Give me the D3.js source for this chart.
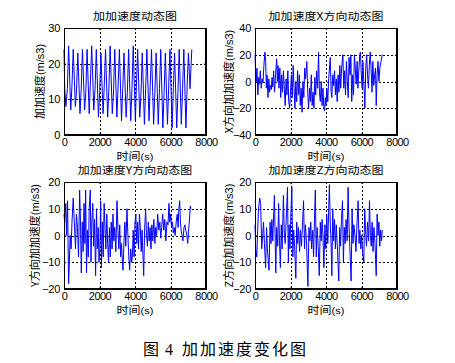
<!DOCTYPE html>
<html>
<head>
<meta charset="utf-8">
<script src="https://cdn.jsdelivr.net/npm/d3@7"></script>
<style>
body { margin: 0; background: #fff; }
svg text { font-family: Arial, "Liberation Sans", sans-serif; fill: #000; }
.cjk { font-family: "Noto Sans CJK SC", sans-serif; }
</style>
</head>
<body>
<svg id="chart" width="455" height="363"></svg>
<script>
// total jerk
var jerkT = [0, 40, 110, 190, 260, 380, 450, 520, 640, 700, 780, 900, 970, 1040, 1160, 1230, 1300, 1420, 1480,
  1560, 1680, 1750, 1820, 1940, 2010, 2080, 2200, 2270, 2340, 2460, 2530, 2600, 2720, 2790, 2860, 2980, 3050,
  3120, 3240, 3310, 3380, 3500, 3570, 3640, 3760, 3830, 3900, 4020, 4080, 4150, 4270, 4340, 4410, 4530, 4600,
  4670, 4790, 4860, 4930, 5050, 5120, 5190, 5310, 5380, 5450, 5570, 5640, 5710, 5830, 5900, 5970, 6090, 6160,
  6230, 6350, 6420, 6490, 6610, 6680, 6750, 6870, 6940, 7010, 7100, 7200];
var jerkV = [24, 13, 8, 13, 25, 7, 14, 24, 8, 12, 23, 6, 13, 24, 7, 12, 24, 6, 14,
  25, 7, 13, 24, 5, 12, 23, 6, 14, 24, 5, 13, 25, 6, 12, 24, 5, 14,
  24, 4, 13, 23, 5, 12, 24, 4, 13, 25, 4, 14, 24, 5, 12, 23, 3, 13,
  24, 4, 14, 24, 3, 12, 23, 3, 13, 24, 2, 12, 23, 3, 14, 24, 2, 13,
  23, 2, 12, 24, 3, 13, 24, 2, 14, 23, 13, 24];

// X direction
var jerkXT = [0, 40, 70, 110, 160, 210, 250, 300, 350, 400, 450, 500, 560, 600, 640, 680, 730, 780, 820, 870,
  920, 960, 1000, 1050, 1100, 1160, 1220, 1260, 1300, 1350, 1400, 1450, 1500, 1550, 1600, 1650, 1700, 1750,
  1800, 1850, 1900, 1950, 2000, 2050, 2100, 2150, 2200, 2250, 2300, 2350, 2400, 2450, 2500, 2550, 2600, 2650,
  2700, 2750, 2800, 2850, 2920, 2970, 3020, 3070, 3120, 3170, 3220, 3270, 3320, 3370, 3420, 3470, 3530, 3580,
  3630, 3680, 3730, 3780, 3830, 3880, 3920, 3960, 4000, 4050, 4100, 4150, 4240, 4290, 4330, 4380, 4430, 4480,
  4530, 4580, 4630, 4680, 4730, 4780, 4830, 4880, 4950, 5000, 5050, 5100, 5150, 5200, 5250, 5300, 5350, 5400,
  5450, 5500, 5550, 5600, 5650, 5700, 5750, 5800, 5850, 5900, 5940, 5990, 6040, 6080, 6130, 6190, 6240, 6290,
  6340, 6390, 6440, 6490, 6540, 6590, 6640, 6690, 6740, 6790, 6830, 6880, 6930, 6980, 7030, 7100, 7170];
var jerkXV = [20, 5, 0, 10, -10, 3, -2, 8, -5, 2, -1, 12, 22, 15, -5, 5, -12, 2, -8, -3,
  -6, 3, -4, 8, -8, 5, 17, 0, 12, -5, 10, -12, 5, -8, 8, -5, -18, 2,
  -10, 8, -15, -20, -8, 5, -12, 12, -5, -20, 0, -15, 8, -10, 5, -18, -5, -23,
  0, -12, 10, 2, 15, -8, -20, -5, -15, 5, -18, -8, -20, 3, -10, 8, -5, 22,
  -8, -15, 0, -18, -5, -20, -22, -12, -18, -5, -15, 2, 18, -8, -12, 5, -3, 8,
  -10, 2, -15, 5, -8, 12, -5, 10, 20, -5, 8, -10, 15, 0, -12, 18, 5, 20,
  -15, 5, -10, 20, 10, -2, 15, -5, 8, 20, 22, 5, -5, 15, 0, -20, 10, 20,
  5, -5, 12, 22, 10, -8, 15, -3, 5, 10, -18, 5, 15, 0, 10, 15, 20];

// Y direction
var jerkYT = [0, 40, 100, 150, 200, 260, 300, 350, 400, 450, 520, 560, 600, 650, 700, 760, 820, 880, 930, 975,
  1030, 1080, 1130, 1180, 1220, 1270, 1320, 1370, 1420, 1480, 1520, 1570, 1620, 1670, 1720, 1780, 1830, 1880,
  1930, 1970, 2020, 2066, 2110, 2160, 2210, 2260, 2310, 2360, 2410, 2460, 2510, 2560, 2610, 2660, 2710, 2760,
  2810, 2860, 2920, 2986, 3040, 3090, 3140, 3190, 3240, 3290, 3325, 3380, 3430, 3480, 3550, 3600, 3650, 3700,
  3760, 3810, 3850, 3900, 3950, 4000, 4050, 4100, 4150, 4200, 4250, 4300, 4350, 4400, 4450, 4490, 4540, 4600,
  4650, 4700, 4750, 4800, 4850, 4900, 4950, 5000, 5060, 5120, 5170, 5220, 5280, 5340, 5400, 5450, 5500, 5560,
  5620, 5680, 5740, 5800, 5860, 5915, 5960, 6010, 6060, 6110, 6160, 6210, 6260, 6320, 6380, 6430, 6470, 6516,
  6560, 6600, 6650, 6700, 6760, 6810, 6860, 6920, 6970, 7020, 7060, 7117, 7150];
var jerkYV = [8, 5, 12, 0, 13, -18, -10, 0, -5, 5, 14, 8, 2, -5, 8, 3, -8, 17, 5, -14,
  5, -6, 12, -3, 17, -14, 2, -8, 10, 17, -10, 5, 12, -4, 6, -15, 10, -5,
  3, -10, -5, 13, -12, 5, -8, 12, 3, -5, 8, -3, -10, 3, -8, 5, -5, 8,
  -2, 3, -6, 13, 2, -5, 4, -8, -3, -10, -13, -2, 5, -4, 10, 0, -8, -13,
  -5, -10, -8, 2, -8, 5, 8, -3, 5, -5, 8, 3, -6, 2, -8, -15, 2, 10,
  0, -4, 5, -2, 3, -5, 4, -2, 6, -3, 3, 0, 8, 2, 5, -1, 3, 8,
  2, 6, -2, 5, 4, 12, 5, 8, 3, 5, 1, 3, 0, 5, 8, 3, 10, 13,
  5, 2, 0, -2, 3, 4, 2, 0, -3, 2, 5, 11, 10];

// Z direction
var jerkZT = [0, 40, 100, 150, 200, 264, 320, 380, 430, 480, 530, 600, 650, 700, 790, 850, 900, 950, 1000, 1094,
  1170, 1220, 1280, 1330, 1380, 1430, 1480, 1530, 1600, 1650, 1700, 1760, 1830, 1880, 1920, 1970, 2020, 2075,
  2130, 2180, 2230, 2300, 2350, 2400, 2450, 2510, 2560, 2620, 2680, 2735, 2790, 2840, 2900, 2980, 3040, 3090,
  3140, 3190, 3250, 3300, 3350, 3400, 3450, 3500, 3560, 3620, 3680, 3730, 3780, 3830, 3880, 3940, 3990, 4040,
  4100, 4190, 4240, 4290, 4330, 4380, 4430, 4480, 4530, 4580, 4650, 4720, 4770, 4820, 4870, 4930, 4980, 5030,
  5080, 5130, 5190, 5245, 5290, 5340, 5415, 5470, 5520, 5570, 5630, 5690, 5750, 5810, 5860, 5910, 5960, 6010,
  6060, 6130, 6180, 6230, 6280, 6340, 6400, 6450, 6500, 6550, 6600, 6650, 6700, 6760, 6830, 6880, 6930, 6980,
  7030, 7080, 7130, 7170];
var jerkZV = [4, -5, -8, 2, 10, 14, 12, -5, 0, 5, -3, -12, 3, -5, -13, 5, -3, 6, -2, 15,
  -14, 3, -4, 12, -2, -12, 4, -5, 15, 1, -3, 6, 18, -10, 4, -5, 8, 18,
  -8, 2, -4, -16, 5, -3, 3, -6, 2, -4, 5, 13, -5, 4, -2, -19, 3, -2,
  5, -5, 2, -8, 6, 17, -8, 3, -4, -15, 5, -2, 6, 0, -12, 4, -5, 8,
  -3, 19, 5, -4, -15, 10, -2, 6, -5, 4, -6, -17, 3, -4, 6, 13, -10, 3,
  -3, 6, -2, 18, 5, -4, -17, 10, -3, 4, 0, -6, 5, 13, -3, 2, -5, 0,
  -6, -10, 10, 2, -4, 5, -2, 13, 0, -4, 5, -6, 3, -3, -15, 8, 0, 5,
  -4, 2, -2, 2];

var xTicks = [0, 2000, 4000, 6000, 8000];

var panels = [
  { t: jerkT, v: jerkV, title: "加加速度动态图", ylab: "加加速度", ydom: [0, 30], yticks: [0, 10, 20, 30],
    left: 64, top: 28, labX: 38 },
  { t: jerkXT, v: jerkXV, title: "加加速度X方向动态图", ylab: "X方向加加速度", ydom: [-40, 40], yticks: [-40, -20, 0, 20, 40],
    left: 255, top: 28, labX: 227 },
  { t: jerkYT, v: jerkYV, title: "加加速度Y方向动态图", ylab: "Y方向加加速度", ydom: [-20, 20], yticks: [-20, -10, 0, 10, 20],
    left: 64, top: 182, labX: 33 },
  { t: jerkZT, v: jerkZV, title: "加加速度Z方向动态图", ylab: "Z方向加加速度", ydom: [-20, 20], yticks: [-20, -10, 0, 10, 20],
    left: 255, top: 182, labX: 227 }
];

var pw = 142, ph = 107;
var svg = d3.select("#chart");

panels.forEach(function(p) {
  var g = svg.append("g").attr("transform", "translate(" + p.left + "," + p.top + ")");
  var x = d3.scaleLinear().domain([0, 8000]).range([0, pw]);
  var y = d3.scaleLinear().domain(p.ydom).range([ph, 0]);

  g.append("rect").attr("width", pw).attr("height", ph).attr("fill", "#fff");

  // dotted grid
  g.selectAll(".gx").data(xTicks.slice(1, -1)).enter().append("line")
    .attr("x1", function(d) { return Math.round(x(d)) + 0.5; })
    .attr("x2", function(d) { return Math.round(x(d)) + 0.5; })
    .attr("y1", 0).attr("y2", ph)
    .attr("stroke", "#000").attr("stroke-dasharray", "2,2");
  g.selectAll(".gy").data(p.yticks.slice(1, -1)).enter().append("line")
    .attr("y1", function(d) { return Math.round(y(d)) + 0.5; })
    .attr("y2", function(d) { return Math.round(y(d)) + 0.5; })
    .attr("x1", 0).attr("x2", pw)
    .attr("stroke", "#000").attr("stroke-dasharray", "2,2");

  var line = d3.line()
    .x(function(d, i) { return x(p.t[i]); })
    .y(function(d) { return y(d); });
  g.append("path").datum(p.v)
    .attr("d", line)
    .attr("fill", "none")
    .attr("stroke", "#0000ff")
    .attr("stroke-width", 1);

  // axes, inward ticks like matlab
  var ax = g.append("g").attr("transform", "translate(0," + ph + ")")
    .call(d3.axisBottom(x).tickValues(xTicks).tickSize(-2).tickPadding(4).tickFormat(d3.format("d")));
  var ay = g.append("g")
    .call(d3.axisLeft(y).tickValues(p.yticks).tickSize(-2).tickPadding(4));
  g.append("g").call(d3.axisTop(x).tickValues(xTicks).tickSize(-2).tickFormat(""));
  g.append("g").attr("transform", "translate(" + pw + ",0)")
    .call(d3.axisRight(y).tickValues(p.yticks).tickSize(-2).tickFormat(""));
  svg.selectAll(".domain").attr("stroke", "#000");
  ax.selectAll("text").attr("font-size", 11).attr("letter-spacing", -0.5).attr("dy", "0.68em");
  ay.selectAll("text").attr("font-size", 11).attr("letter-spacing", -0.3);

  g.append("rect").attr("x", 0.5).attr("y", 0.5).attr("width", pw - 1).attr("height", ph - 1)
    .attr("fill", "none").attr("stroke", "#000");

  // title (the source picture is a bit squashed vertically)
  g.append("text").attr("class", "cjk")
    .attr("transform", "translate(" + (pw / 2) + ",-8) scale(1,0.85)")
    .attr("text-anchor", "middle")
    .attr("font-size", 12).text(p.title);

  // x label
  var xl = g.append("text")
    .attr("transform", "translate(" + (pw / 2) + "," + (ph + 24.5) + ") scale(1,0.85)")
    .attr("text-anchor", "middle");
  xl.append("tspan").attr("class", "cjk").attr("font-size", 12).text("时间");
  xl.append("tspan").attr("font-size", 11).text("(s)");

  // y label
  var yl = svg.append("text")
    .attr("transform", "translate(" + p.labX + "," + (p.top + ph / 2) + ") rotate(-90)")
    .attr("text-anchor", "middle").attr("dy", "0.35em");
  yl.append("tspan").attr("class", "cjk").attr("font-size", 11).text(p.ylab);
  yl.append("tspan").attr("font-size", 11).text("(m/s3)");
});

// caption
var cap = svg.append("text").attr("class", "cjk").attr("y", 355).attr("font-size", 16);
cap.append("tspan").attr("x", 143).text("图");
cap.append("tspan").attr("x", 165).attr("font-family", "\"Liberation Serif\", serif").text("4");
cap.append("tspan").attr("x", 182).attr("letter-spacing", 2).text("加加速度变化图");
</script>
</body>
</html>
